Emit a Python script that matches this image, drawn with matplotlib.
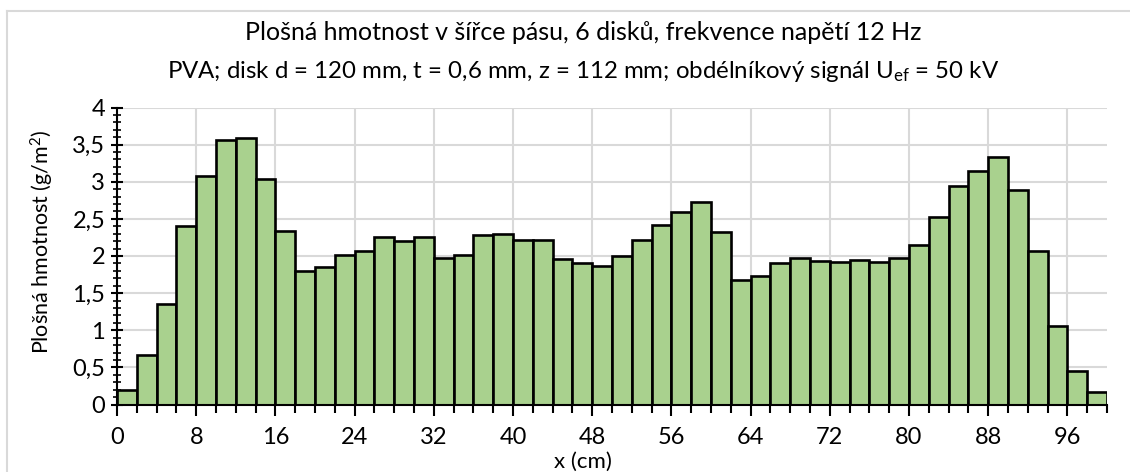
import numpy as np
import matplotlib
matplotlib.use("Agg")
import matplotlib.pyplot as plt
from matplotlib.ticker import MultipleLocator, FuncFormatter
from matplotlib.lines import Line2D

# Surface mass across the belt width, one bar per 2 cm strip
x_start = [0, 2, 4, 6, 8, 10, 12, 14, 16, 18, 20, 22, 24, 26, 28, 30, 32, 34, 36, 38,
           40, 42, 44, 46, 48, 50, 52, 54, 56, 58, 60, 62, 64, 66, 68, 70, 72, 74, 76, 78,
           80, 82, 84, 86, 88, 90, 92, 94, 96, 98]
mass = [0.20, 0.67, 1.36, 2.40, 3.08, 3.56, 3.59, 3.04, 2.33, 1.80,
        1.85, 2.02, 2.07, 2.26, 2.20, 2.25, 1.975, 2.02, 2.28, 2.29,
        2.22, 2.22, 1.96, 1.90, 1.87, 2.00, 2.21, 2.42, 2.59, 2.73,
        2.32, 1.68, 1.73, 1.91, 1.975, 1.93, 1.92, 1.95, 1.92, 1.975,
        2.15, 2.53, 2.94, 3.15, 3.34, 2.89, 2.07, 1.055, 0.45, 0.175]
strip_width = 2

title = "Plošná hmotnost v šířce pásu, 6 disků, frekvence napětí 12 Hz"
subtitle = "PVA; disk d = 120 mm, t = 0,6 mm, z = 112 mm; obdélníkový signál U$_{\\mathrm{ef}}$ = 50 kV"
ylabel = "Plošná hmotnost (g/m$^{\\mathrm{2}}$)"
xlabel = "x (cm)"

FONT = "Lato"
plt.rcParams["font.family"] = [FONT, "DejaVu Sans"]
plt.rcParams["mathtext.fontset"] = "custom"
plt.rcParams["mathtext.rm"] = FONT
plt.rcParams["mathtext.it"] = FONT
plt.rcParams["mathtext.default"] = "rm"

W, H = 1130, 472
fig = plt.figure(figsize=(W / 100, H / 100), dpi=100)

# Chart-area frame (top and left edges visible)
frame_col = "#d9d9d9"
fig.add_artist(Line2D([7 / W, 7 / W], [0, 1 - 11 / H], transform=fig.transFigure,
                      color=frame_col, lw=1.5))
fig.add_artist(Line2D([7 / W, 1], [1 - 11 / H, 1 - 11 / H], transform=fig.transFigure,
                      color=frame_col, lw=1.5))

ax = fig.add_axes([117 / W, 1 - 404.5 / H, (1107 - 117) / W, (404.5 - 107.5) / H])

ax.bar(x_start, mass, width=strip_width, align="edge", color="#a9d18e",
       edgecolor="black", linewidth=1.9, zorder=3)

ax.set_xlim(0, 100)
ax.set_ylim(0, 4)
ax.xaxis.set_major_locator(MultipleLocator(8))
ax.xaxis.set_minor_locator(MultipleLocator(2))
ax.yaxis.set_major_locator(MultipleLocator(0.5))
ax.yaxis.set_minor_locator(MultipleLocator(0.1))

def comma_fmt(v, pos):
    s = f"{v:g}"
    return s.replace(".", ",")

ax.yaxis.set_major_formatter(FuncFormatter(comma_fmt))
ax.xaxis.set_major_formatter(FuncFormatter(lambda v, p: f"{int(round(v))}"))

ax.grid(True, which="major", color="#d9d9d9", lw=1.5, zorder=0)
ax.set_axisbelow(True)

for side in ("top", "right"):
    ax.spines[side].set_visible(False)
for side in ("left", "bottom"):
    ax.spines[side].set_color("black")
    ax.spines[side].set_linewidth(1.5)
    ax.spines[side].set_zorder(4)

ax.tick_params(axis="y", which="major", direction="inout", length=9, width=1.5,
               labelsize=17, pad=4, colors="black")
ax.tick_params(axis="y", which="minor", direction="inout", length=6, width=1.2)
ax.tick_params(axis="x", which="major", direction="out", length=8, width=1.5,
               labelsize=17, pad=8, colors="black")
ax.tick_params(axis="x", which="minor", direction="out", length=6, width=1.5)

fig.text(583 / W, 1 - 33 / H, title, ha="center", va="center", fontsize=18)
fig.text(583 / W, 1 - 72 / H, subtitle, ha="center", va="center", fontsize=17.3)
fig.text(42 / W, 1 - 242 / H, ylabel, ha="center", va="center", rotation=90, fontsize=15.5)
fig.text(583 / W, 1 - 462 / H, xlabel, ha="center", va="center", fontsize=16)

fig.savefig("out.png", dpi=100, facecolor="white")
